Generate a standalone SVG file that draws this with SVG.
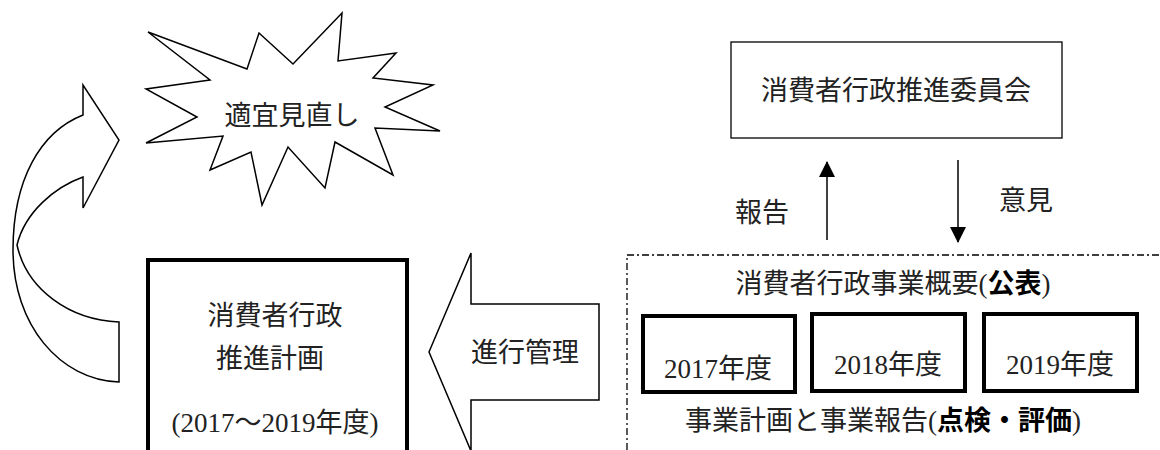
<svg xmlns="http://www.w3.org/2000/svg" width="1160" height="450" viewBox="0 0 1160 450">
<style>
  .thin{fill:#fff;stroke:#000;stroke-width:1.5;stroke-linejoin:miter}
  .thick{fill:#fff;stroke:#000;stroke-width:4}
  .t{font-family:"Liberation Serif","Noto Sans CJK JP",serif;font-size:27px;fill:#222;text-anchor:middle}
  .b{font-family:"Noto Sans CJK JP",sans-serif;font-weight:bold;fill:#000}
  .conn{stroke:#000;stroke-width:1.5;fill:none}
</style>
<defs>
  <marker id="ah" viewBox="0 0 16 16" markerWidth="16" markerHeight="16" refX="15" refY="8" orient="auto" markerUnits="userSpaceOnUse">
    <path d="M0,0 L16,8 L0,16 Z" fill="#000"/>
  </marker>
</defs>
<rect width="1160" height="450" fill="#fff"/>

<g id="burst">
  <polygon class="thin" points="148,32 247,69 259,33 293,64 342,13 338,61 396,53 373,78 433,85 385,107 440,131 375,128 393,175 335,142 325,188 288,147 262,205 251,152 210,170 223,136 146,143 197,117 146,89 210,80"/>
  <text class="t" x="292" y="125">適宜見直し</text>
</g>

<g id="curved-arrow">
  <path class="thin" d="M119,322 C70,320 27,290 17,245 C25,212 55,187 83,177 L83,208 L119,140 L83,85 L83,115 C40,132 13,180 13,250 C13,325 60,380 119,382 Z"/>
</g>

<g id="plan">
  <rect class="thick" x="148" y="260" width="259" height="210"/>
  <text class="t" x="275" y="325">消費者行政</text>
  <text class="t" x="270" y="368">推進計画</text>
  <text class="t" x="275" y="432">(2017～2019年度)</text>
</g>

<g id="progress-arrow">
  <polygon class="thin" points="429,352 471,253 471,304 599,304 599,400 471,400 471,451"/>
  <text class="t" x="525" y="362">進行管理</text>
</g>

<g id="committee">
  <rect x="731" y="42" width="331" height="96" fill="#fff" stroke="#000" stroke-width="1.3"/>
  <text class="t" x="896" y="100">消費者行政推進委員会</text>
</g>

<g id="overview">
  <rect x="627" y="255" width="560" height="220" fill="none" stroke="#000" stroke-width="1.3" stroke-dasharray="7,3,2,3"/>
  <text class="t" x="893" y="293">消費者行政事業概要(<tspan class="b">公表</tspan>)</text>
  <text class="t" x="883" y="430">事業計画と事業報告(<tspan class="b">点検・評価</tspan>)</text>
</g>

<g id="y2017">
  <rect class="thick" x="643" y="316" width="152" height="76"/>
  <text class="t" x="718" y="378">2017年度</text>
</g>
<g id="y2018">
  <rect class="thick" x="812" y="314" width="153" height="77"/>
  <text class="t" x="888" y="374">2018年度</text>
</g>
<g id="y2019">
  <rect class="thick" x="984" y="314" width="153" height="77"/>
  <text class="t" x="1060" y="374">2019年度</text>
</g>

<g id="connectors">
  <line class="conn" x1="827" y1="240" x2="827" y2="162" marker-end="url(#ah)"/>
  <line class="conn" x1="958" y1="160" x2="958" y2="242" marker-end="url(#ah)"/>
  <text class="t" x="762" y="222">報告</text>
  <text class="t" x="1026" y="210">意見</text>
</g>
</svg>
